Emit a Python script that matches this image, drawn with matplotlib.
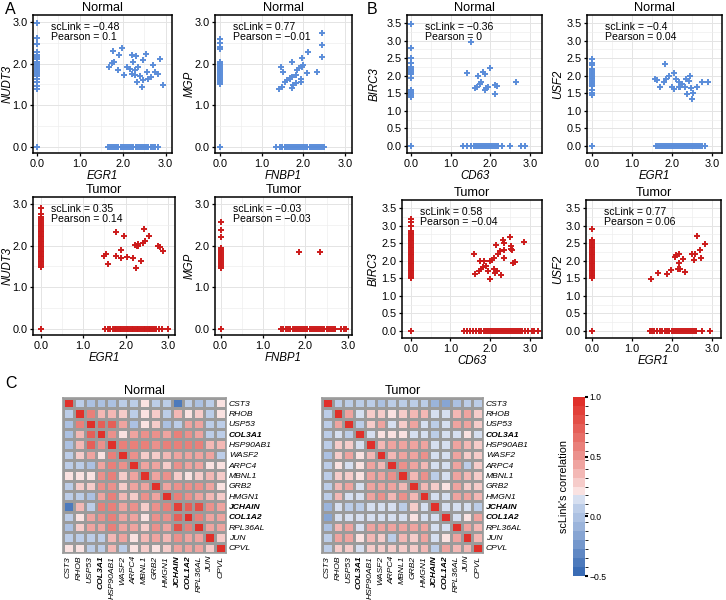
import numpy as np
import matplotlib
matplotlib.use('Agg')
import matplotlib.pyplot as plt
from matplotlib import colors
from matplotlib.cm import ScalarMappable
from matplotlib.ticker import MultipleLocator

plt.rcParams['font.family'] = ['Liberation Sans', 'DejaVu Sans']

# ---------------- scatter data (x=0 column, y=0 row, non-zero cluster) ----------------
# A, Normal: EGR1 vs NUDT3
a1_col_y = [0.0, 1.40, 1.45, 1.55, 1.62, 1.70, 1.75, 1.80, 1.85, 1.90, 1.95, 2.00, 2.05, 2.10,
            2.15, 2.20, 2.28, 2.48, 2.62, 2.97]
a1_row_x = [1.65, 1.70, 1.75, 1.80, 1.85, 1.90, 1.95, 2.00, 2.05, 2.10, 2.15, 2.20, 2.25, 2.30,
            2.35, 2.40, 2.45, 2.50, 2.55, 2.60, 2.65, 2.70, 2.75, 2.82]
a1_x = [1.67, 1.74, 1.77, 1.80, 1.90, 1.92, 1.98, 2.03, 2.09, 2.16, 2.21, 2.21, 2.25, 2.29, 2.29,
        2.31, 2.33, 2.36, 2.40, 2.44, 2.48, 2.48, 2.54, 2.56, 2.60, 2.67, 2.71, 2.75, 2.83, 2.87, 2.95]
a1_y = [1.92, 2.02, 2.30, 2.04, 1.84, 2.20, 2.38, 1.72, 1.92, 1.88, 2.20, 1.76, 2.04, 1.84, 1.72,
        2.18, 1.56, 1.92, 1.70, 1.44, 1.60, 2.08, 2.24, 1.80, 1.64, 1.68, 1.96, 1.80, 1.76, 2.12, 1.48]

# A, Normal: FNBP1 vs MGP
a2_col_y = [0.0, 1.50, 1.55, 1.60, 1.65, 1.70, 1.75, 1.80, 1.85, 1.90, 1.95, 2.00, 2.05, 2.35,
            2.40, 2.50, 2.60]
a2_row_x = [1.35, 1.45, 1.50, 1.55, 1.60, 1.65, 1.70, 1.75, 1.80, 1.85, 1.90, 1.95, 2.00, 2.05,
            2.10, 2.15, 2.20, 2.25, 2.30, 2.35, 2.40, 2.45, 2.50]
a2_x = [1.42, 1.46, 1.48, 1.52, 1.56, 1.62, 1.68, 1.68, 1.72, 1.72, 1.74, 1.76, 1.82, 1.82,
        1.84, 1.90, 1.94, 1.94, 1.96, 1.98, 2.00, 2.08, 2.12, 2.32, 2.44, 2.46, 2.46]
a2_y = [1.38, 1.93, 1.43, 1.81, 1.57, 1.61, 1.63, 1.65, 1.69, 1.41, 2.03, 1.49, 1.73, 1.54,
        1.85, 1.89, 1.57, 1.63, 1.93, 2.13, 1.97, 1.77, 2.27, 1.81, 2.74, 2.45, 2.16]

# A, Tumor: EGR1 vs NUDT3
a3_col_y = [0.0, 1.48, 1.52, 1.56, 1.60, 1.64, 1.68, 1.72, 1.76, 1.80, 1.84, 1.88, 1.92, 1.96,
            2.00, 2.04, 2.08, 2.12, 2.16, 2.20, 2.24, 2.28, 2.32, 2.36, 2.40, 2.45, 2.50, 2.55,
            2.60, 2.65, 2.70, 2.75, 2.90]
a3_row_x = [1.52, 1.58, 1.64, 1.70, 1.74, 1.78, 1.82, 1.86, 1.90, 1.94, 1.98, 2.02, 2.06, 2.10,
            2.14, 2.18, 2.22, 2.26, 2.30, 2.34, 2.38, 2.42, 2.46, 2.50, 2.54, 2.58, 2.62, 2.66,
            2.72, 2.78, 2.85, 3.00]
a3_x = [1.48, 1.53, 1.59, 1.78, 1.78, 1.90, 1.90, 1.96, 2.04, 2.18, 2.21, 2.24, 2.26, 2.30,
        2.30, 2.37, 2.40, 2.43, 2.45, 2.55, 2.77, 2.81, 2.87]
a3_y = [1.76, 1.80, 1.56, 2.34, 1.76, 1.90, 1.70, 2.24, 1.72, 1.70, 2.02, 1.46, 1.98, 1.98,
        2.04, 1.64, 2.06, 2.40, 2.12, 2.24, 1.98, 1.96, 1.86]

# A, Tumor: FNBP1 vs MGP
a4_col_y = [0.0, 1.45, 1.50, 1.55, 1.60, 1.65, 1.70, 1.75, 1.80, 1.85, 1.90, 1.95, 2.20, 2.38, 2.58]
a4_row_x = [1.42, 1.48, 1.54, 1.60, 1.65, 1.70, 1.75, 1.80, 1.85, 1.90, 1.95, 2.00, 2.05, 2.10,
            2.15, 2.20, 2.25, 2.30, 2.35, 2.40, 2.45, 2.50, 2.55, 2.60, 2.65, 2.70, 2.85, 2.90, 2.97]
a4_x = [1.85, 2.34]
a4_y = [1.85, 1.85]

# B, Normal: CD63 vs BIRC3
b1_col_y = [0.0, 1.40, 1.45, 1.50, 1.55, 1.60, 1.95, 2.05, 2.10, 2.15, 2.20, 2.25, 2.35, 2.50,
            2.80, 3.48]
b1_row_x = [1.32, 1.40, 1.50, 1.60, 1.65, 1.70, 1.75, 1.80, 1.85, 1.90, 1.95, 2.00, 2.05, 2.10,
            2.15, 2.20, 2.30, 2.50, 2.78, 2.88]
b1_x = [1.40, 1.52, 1.61, 1.67, 1.69, 1.73, 1.77, 1.82, 1.86, 1.86, 1.90, 1.94, 2.00, 2.11, 2.11,
        2.17, 2.65]
b1_y = [2.09, 2.95, 1.65, 1.69, 1.98, 1.77, 1.81, 2.12, 2.06, 1.60, 1.65, 1.67, 2.21, 1.73, 1.47,
        1.71, 1.81]

# B, Normal: EGR1 vs USF2
b2_col_y = [0.0, 1.45, 1.50, 1.60, 1.70, 1.75, 1.80, 1.85, 1.90, 1.95, 2.00, 2.05, 2.10, 2.15,
            2.20, 2.30, 2.35, 2.48]
b2_row_x = [1.60, 1.65, 1.70, 1.75, 1.80, 1.85, 1.90, 1.95, 2.00, 2.05, 2.10, 2.15, 2.20, 2.25,
            2.30, 2.35, 2.40, 2.45, 2.50, 2.55, 2.60, 2.65, 2.70, 2.75, 2.82]
b2_x = [1.58, 1.63, 1.71, 1.79, 1.83, 1.85, 1.93, 2.00, 2.04, 2.04, 2.10, 2.17, 2.17, 2.21, 2.25,
        2.32, 2.35, 2.38, 2.42, 2.46, 2.47, 2.50, 2.52, 2.62, 2.75, 2.90]
b2_y = [1.92, 1.88, 1.69, 1.83, 2.33, 1.90, 1.98, 1.69, 2.07, 1.62, 1.90, 1.81, 1.67, 1.69, 1.76,
        1.69, 1.90, 1.47, 1.86, 2.00, 1.64, 1.33, 1.52, 1.69, 1.83, 1.81]

# B, Tumor: CD63 vs BIRC3
b3_col_y = [0.0, 1.50, 1.55, 1.60, 1.65, 1.70, 1.75, 1.80, 1.85, 1.90, 1.95, 2.00, 2.05, 2.10,
            2.15, 2.20, 2.25, 2.30, 2.35, 2.40, 2.45, 2.50, 2.55, 2.60, 2.65, 2.70, 2.75, 2.80,
            2.85, 3.00, 3.10, 3.20]
b3_row_x = [1.35, 1.42, 1.50, 1.58, 1.65, 1.72, 1.78, 1.84, 1.90, 1.95, 2.00, 2.05, 2.10, 2.15,
            2.20, 2.25, 2.30, 2.35, 2.40, 2.45, 2.50, 2.55, 2.60, 2.65, 2.70, 2.75, 2.80, 2.88,
            2.95, 3.05, 3.12, 3.20]
b3_x = [1.60, 1.63, 1.71, 1.74, 1.77, 1.82, 1.85, 1.90, 1.96, 1.99, 1.99, 2.05, 2.09, 2.11, 2.13,
        2.15, 2.17, 2.19, 2.26, 2.27, 2.32, 2.34, 2.34, 2.36, 2.51, 2.53, 2.53, 2.56, 2.58, 2.64, 2.85]
b3_y = [2.18, 1.61, 1.70, 2.00, 1.77, 1.82, 2.00, 1.86, 1.70, 1.99, 1.49, 2.03, 2.08, 1.77, 1.65,
        2.45, 1.72, 2.19, 2.29, 1.58, 2.59, 2.50, 2.31, 2.08, 2.69, 2.34, 2.43, 2.31, 1.93, 1.96, 2.53]

# B, Tumor: EGR1 vs USF2
b4_col_y = [0.0, 1.52, 1.56, 1.60, 1.65, 1.70, 1.75, 1.80, 1.85, 1.90, 1.95, 2.00, 2.05, 2.10,
            2.15, 2.20, 2.25, 2.30, 2.35, 2.40, 2.45, 2.50, 2.55, 2.58, 2.90]
b4_row_x = [1.45, 1.50, 1.55, 1.62, 1.70, 1.76, 1.82, 1.88, 1.94, 2.00, 2.05, 2.10, 2.15, 2.20,
            2.25, 2.30, 2.35, 2.40, 2.45, 2.50, 2.55, 2.60, 2.75, 2.95]
b4_x = [1.48, 1.65, 1.88, 1.98, 2.07, 2.10, 2.15, 2.17, 2.18, 2.21, 2.29, 2.32, 2.50, 2.56, 2.58,
        2.63, 2.71, 2.73, 2.83]
b4_y = [1.49, 1.66, 1.61, 1.75, 2.11, 2.15, 1.77, 2.20, 1.94, 1.77, 2.05, 1.68, 2.18, 2.02, 2.18,
        2.70, 2.30, 2.08, 2.49]

# ---------------- heatmap data ----------------
genes = ['CST3', 'RHOB', 'USP53', 'COL3A1', 'HSP90AB1', 'WASF2', 'ARPC4', 'MBNL1', 'GRB2',
         'HMGN1', 'JCHAIN', 'COL1A2', 'RPL36AL', 'JUN', 'CPVL']
bold_genes = ['COL3A1', 'JCHAIN', 'COL1A2']

normal_corr = [
    [1.00, 0.08, -0.05, -0.05, -0.05, 0.05, 0.05, 0.20, 0.08, 0.05, -0.40, 0.05, 0.02, 0.08, 0.20],
    [0.08, 1.00, 0.55, 0.35, 0.35, 0.25, 0.08, 0.20, 0.30, 0.08, 0.35, 0.20, 0.30, 0.08, 0.20],
    [-0.05, 0.55, 1.00, 0.70, 0.70, 0.40, -0.05, 0.20, 0.30, -0.05, 0.08, 0.40, 0.40, 0.05, 0.05],
    [-0.05, 0.35, 0.70, 1.00, 0.50, 0.20, 0.45, 0.50, 0.50, 0.45, 0.55, 0.50, 0.45, 0.05, 0.05],
    [-0.05, 0.35, 0.70, 0.50, 1.00, 0.55, 0.55, 0.60, 0.50, 0.55, 0.60, 0.55, 0.55, 0.35, 0.35],
    [0.05, 0.25, 0.40, 0.20, 0.55, 1.00, 0.50, 0.30, 0.30, 0.35, 0.45, 0.45, 0.45, 0.45, 0.05],
    [0.05, 0.08, -0.05, 0.45, 0.55, 0.50, 1.00, 0.45, 0.45, 0.30, 0.50, 0.45, 0.45, 0.18, 0.20],
    [0.20, 0.20, 0.20, 0.50, 0.60, 0.30, 0.45, 1.00, 0.45, 0.50, 0.25, 0.18, 0.30, 0.35, 0.30],
    [0.08, 0.30, 0.30, 0.50, 0.50, 0.30, 0.45, 0.45, 1.00, 0.45, 0.50, 0.50, 0.50, 0.40, 0.20],
    [0.05, 0.08, -0.05, 0.45, 0.55, 0.35, 0.30, 0.50, 0.45, 1.00, 0.55, 0.50, 0.45, 0.35, 0.30],
    [-0.40, 0.35, 0.08, 0.55, 0.60, 0.45, 0.50, 0.25, 0.50, 0.55, 0.85, 0.70, 0.80, 0.50, 0.45],
    [0.05, 0.20, 0.40, 0.50, 0.55, 0.45, 0.45, 0.18, 0.50, 0.50, 0.70, 1.00, 0.60, 0.45, 0.40],
    [0.02, 0.30, 0.40, 0.45, 0.55, 0.45, 0.45, 0.30, 0.50, 0.45, 0.80, 0.60, 1.00, 0.45, 0.45],
    [0.08, 0.08, 0.05, 0.05, 0.35, 0.45, 0.18, 0.35, 0.40, 0.35, 0.50, 0.45, 0.45, 1.00, 0.30],
    [0.20, 0.20, 0.05, 0.05, 0.35, 0.05, 0.20, 0.30, 0.20, 0.30, 0.45, 0.40, 0.45, 0.30, 1.00],
]

tumor_corr = [
    [1.00, 0.05, 0.05, 0.05, 0.05, 0.00, 0.05, 0.05, 0.05, 0.05, -0.10, -0.20, 0.00, 0.05, 0.05],
    [0.05, 1.00, 0.40, 0.10, 0.30, 0.30, 0.20, 0.30, 0.35, 0.35, 0.10, 0.10, 0.35, 0.40, 0.25],
    [0.05, 0.40, 1.00, 0.05, 0.30, 0.40, 0.10, 0.30, 0.45, 0.10, 0.05, 0.10, 0.45, 0.45, 0.30],
    [0.05, 0.10, 0.05, 1.00, 0.10, 0.20, 0.20, 0.20, 0.10, 0.10, 0.05, 0.10, 0.10, 0.20, 0.10],
    [0.05, 0.30, 0.30, 0.10, 1.00, 0.35, 0.45, 0.45, 0.40, 0.45, 0.10, 0.10, 0.45, 0.35, 0.30],
    [0.00, 0.30, 0.40, 0.20, 0.35, 1.00, 0.35, 0.40, 0.40, 0.50, 0.10, 0.10, 0.45, 0.30, 0.30],
    [0.05, 0.20, 0.10, 0.20, 0.45, 0.35, 1.00, 0.50, 0.40, 0.35, 0.10, 0.10, 0.40, 0.05, 0.30],
    [0.05, 0.30, 0.30, 0.20, 0.45, 0.40, 0.50, 1.00, 0.35, 0.50, 0.05, 0.10, 0.40, 0.35, 0.30],
    [0.05, 0.35, 0.45, 0.10, 0.40, 0.40, 0.40, 0.35, 1.00, 0.35, 0.30, 0.20, 0.45, 0.30, 0.30],
    [0.05, 0.35, 0.10, 0.10, 0.45, 0.50, 0.35, 0.50, 0.35, 1.00, 0.10, 0.10, 0.40, 0.40, 0.35],
    [-0.10, 0.10, 0.05, 0.05, 0.10, 0.10, 0.10, 0.05, 0.30, 0.10, 1.00, 0.10, 0.10, 0.10, 0.05],
    [-0.20, 0.10, 0.10, 0.10, 0.10, 0.10, 0.10, 0.10, 0.20, 0.10, 0.10, 1.00, 0.10, 0.20, 0.45],
    [0.00, 0.35, 0.45, 0.10, 0.45, 0.45, 0.40, 0.40, 0.45, 0.40, 0.10, 0.10, 1.00, 0.40, 0.35],
    [0.05, 0.40, 0.45, 0.20, 0.35, 0.30, 0.05, 0.35, 0.30, 0.40, 0.10, 0.20, 0.40, 1.00, 0.35],
    [0.05, 0.25, 0.30, 0.10, 0.30, 0.30, 0.30, 0.30, 0.30, 0.35, 0.05, 0.45, 0.35, 0.35, 1.00],
]

# ---------------- layout helpers ----------------
W, H = 726, 600
fig = plt.figure(figsize=(W / 100, H / 100), dpi=100)


def box(l, t, r, b):
    return [l / W, 1 - b / H, (r - l) / W, (b - t) / H]


BLUE = '#5b8dd9'
RED = '#cc1b1b'


def scatter_panel(rect, col_y, row_x, cx, cy, color, xlab, ylab, title, sc, pr,
                  xlim, ylim, ystep, ylab_px):
    ax = fig.add_axes(box(*rect))
    xs = [0.0] * len(col_y) + list(row_x) + list(cx)
    ys = list(col_y) + [0.0] * len(row_x) + list(cy)
    ax.plot(xs, ys, '+', color=color, ms=4.8, mew=1.4, zorder=3)
    ax.set_xlim(*xlim)
    ax.set_ylim(*ylim)
    ax.xaxis.set_major_locator(MultipleLocator(1.0))
    ax.xaxis.set_minor_locator(MultipleLocator(0.5))
    ax.yaxis.set_major_locator(MultipleLocator(ystep))
    ax.yaxis.set_minor_locator(MultipleLocator(ystep / 2))
    ax.xaxis.set_major_formatter('{x:.1f}')
    ax.yaxis.set_major_formatter('{x:.1f}')
    ax.grid(True, which='major', color='#e4e4e4', lw=0.7)
    ax.grid(True, which='minor', color='#eeeeee', lw=0.5)
    ax.set_axisbelow(True)
    ax.tick_params(which='major', length=2.5, width=0.9, labelsize=7.8, pad=1.5, colors='black')
    ax.tick_params(which='minor', length=0)
    for s in ax.spines.values():
        s.set_linewidth(1.1)
    ax.set_xlabel(xlab, fontsize=8.3, style='italic', labelpad=1)
    ax.set_ylabel(ylab, fontsize=8.3, style='italic', va='center')
    ax.yaxis.set_label_coords((ylab_px - rect[0]) / (rect[2] - rect[0]), 0.5)
    ax.set_title(title, fontsize=9.2, pad=3)
    ax.text(0.13, 0.95, f'scLink = {sc}\nPearson = {pr}', transform=ax.transAxes,
            va='top', ha='left', fontsize=7.6, linespacing=1.0)
    return ax


A_X = (-0.09, 3.15)
A_Y = (-0.15, 3.17)
B_X = (-0.1, 3.3)
B_Y = (-0.2, 3.73)

scatter_panel((33, 15, 172, 153), a1_col_y, a1_row_x, a1_x, a1_y, BLUE, 'EGR1', 'NUDT3',
              'Normal', '\u22120.48', '0.1', A_X, A_Y, 1.0, 8)
scatter_panel((215, 15, 352, 153), a2_col_y, a2_row_x, a2_x, a2_y, BLUE, 'FNBP1', 'MGP',
              'Normal', '0.77', '\u22120.01', (-0.12, 3.17), A_Y, 1.0, 190)
scatter_panel((407, 15, 542, 153), b1_col_y, b1_row_x, b1_x, b1_y, BLUE, 'CD63', 'BIRC3',
              'Normal', '\u22120.36', '0', B_X, B_Y, 0.5, 375)
scatter_panel((587, 15, 722, 153), b2_col_y, b2_row_x, b2_x, b2_y, BLUE, 'EGR1', 'USF2',
              'Normal', '\u22120.4', '0.04', (-0.12, 3.25), B_Y, 0.5, 558)

scatter_panel((33, 197, 175, 335), a3_col_y, a3_row_x, a3_x, a3_y, RED, 'EGR1', 'NUDT3',
              'Tumor', '0.35', '0.14', (-0.18, 3.16), A_Y, 1.0, 8)
scatter_panel((215, 197, 352, 335), a4_col_y, a4_row_x, a4_x, a4_y, RED, 'FNBP1', 'MGP',
              'Tumor', '\u22120.03', '\u22120.03', (-0.13, 3.1), A_Y, 1.0, 190)
scatter_panel((402, 200, 542, 338), b3_col_y, b3_row_x, b3_x, b3_y, RED, 'CD63', 'BIRC3',
              'Tumor', '0.58', '\u22120.04', (-0.22, 3.31), B_Y, 0.5, 374)
scatter_panel((586, 200, 721, 338), b4_col_y, b4_row_x, b4_x, b4_y, RED, 'EGR1', 'USF2',
              'Tumor', '0.77', '0.06', (-0.15, 3.23), B_Y, 0.5, 558)

# ---------------- heatmaps ----------------
cmap = colors.LinearSegmentedColormap.from_list('sclink', [
    (0.0, '#3a6cb5'), (0.267, '#9db5dc'), (0.40, '#c7d6ec'), (0.427, '#dbe3f1'),
    (0.44, '#f8f3f3'), (0.467, '#fae3e2'), (0.567, '#f4bcb9'), (0.70, '#ea8a85'),
    (0.867, '#e4574f'), (1.0, '#e0302a')])
norm = colors.BoundaryNorm(np.linspace(-0.5, 1.0, 21), cmap.N)


def heatmap(rect, mat, title):
    ax = fig.add_axes(box(*rect))
    ax.pcolormesh(np.array(mat), cmap=cmap, norm=norm, edgecolors='#9b9b9b', linewidth=1.0)
    ax.set_xlim(0, len(genes))
    ax.set_ylim(len(genes), 0)
    ax.set_xticks(np.arange(len(genes)) + 0.5)
    ax.set_yticks(np.arange(len(genes)) + 0.5)
    ax.set_xticklabels(genes, rotation=90, fontsize=6.1, style='italic')
    ax.set_yticklabels(genes, fontsize=6.1, style='italic')
    ax.yaxis.tick_right()
    ax.tick_params(length=0, pad=2)
    for lab in ax.get_xticklabels() + ax.get_yticklabels():
        if lab.get_text() in bold_genes:
            lab.set_fontweight('bold')
    for s in ax.spines.values():
        s.set_edgecolor('#9b9b9b')
        s.set_linewidth(1.2)
    ax.set_title(title, fontsize=9.2, pad=3)


heatmap((63, 398, 226, 553), normal_corr, 'Normal')
heatmap((322, 398, 483, 553), tumor_corr, 'Tumor')

cax = fig.add_axes(box(573, 397, 585, 576))
cb = fig.colorbar(ScalarMappable(norm=norm, cmap=cmap), cax=cax, ticks=[-0.5, 0.0, 0.5, 1.0])
cb.outline.set_visible(False)
cax.set_yticklabels(['\u22120.5', '0.0', '0.5', '1.0'])
cax.tick_params(length=2.5, width=1.5, labelsize=6.2, pad=1, colors='black')
cax.yaxis.set_label_position('left')
cax.set_ylabel("scLink's correlation", fontsize=7.8, labelpad=3)

# panel letters
fig.text(5 / W, 1 - 10 / H, 'A', fontsize=11.5, va='center', ha='left')
fig.text(367 / W, 1 - 10 / H, 'B', fontsize=11.5, va='center', ha='left')
fig.text(5 / W, 1 - 383 / H, 'C', fontsize=11.5, va='center', ha='left')

fig.savefig('out.png', dpi=100)
